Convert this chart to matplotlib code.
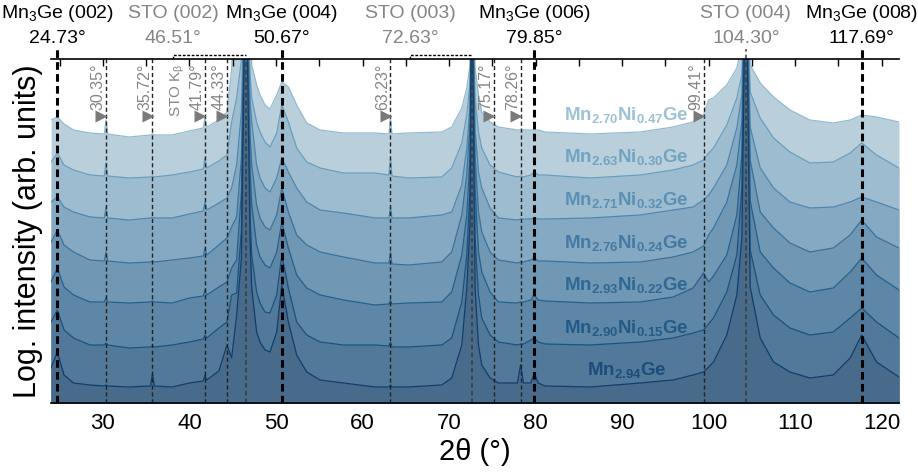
import numpy as np
import matplotlib
matplotlib.use("Agg")
import matplotlib.pyplot as plt
import matplotlib.transforms as mtransforms

plt.rcParams['font.family'] = ['Liberation Sans', 'DejaVu Sans']
plt.rcParams['mathtext.fontset'] = 'custom'
plt.rcParams['mathtext.rm'] = 'Liberation Sans'
plt.rcParams['mathtext.it'] = 'Liberation Sans:italic'
plt.rcParams['mathtext.bf'] = 'Liberation Sans:bold'

# 2theta sampling (deg) shared by all scans
two_theta = [24.0, 24.73, 25.5, 26.6, 28.5, 30.15, 30.35, 30.55, 33.0, 35.5,
             35.72, 35.95, 38.0, 40.0, 41.6, 41.79, 42.0, 43.4, 44.33, 44.87,
             45.45, 46.0, 46.51, 47.0, 47.19, 47.76, 48.15, 48.73, 49.3, 50.08,
             50.67, 51.43, 52.39, 53.55, 55.1, 57.8, 61.45, 63.05, 63.23, 63.4,
             65.3, 69.16, 70.31, 71.47, 72.05, 72.43, 72.63, 73.0, 73.4, 73.78,
             74.74, 75.71, 77.9, 78.26, 78.6, 79.45, 79.85, 80.3, 81.1, 86.3,
             92.1, 95.9, 98.2, 99.41, 100.0, 100.56, 102.1, 103.26, 103.84, 104.3,
             104.8, 105.96, 107.5, 109.4, 111.7, 114.4, 116.36, 117.69, 119.4, 122.0]

# log intensity, offset per sample (arb. units)
mn270_ni047 = [283, 286, 279, 273, 270, 269, 283, 269, 266, 268,
               269, 268, 268, 272, 275, 285, 276, 283, 291, 333,
               460, 460, 460, 460, 338, 318, 308, 298, 294, 308,
               321, 316, 298, 280, 273, 270, 270, 269, 285, 269,
               270, 271, 276, 295, 315, 338, 460, 335, 308, 291,
               281, 276, 273, 273, 273, 273, 273, 273, 271, 269,
               271, 276, 281, 288, 303, 305, 318, 335, 358, 460,
               338, 320, 306, 293, 283, 280, 283, 288, 286, 281]
mn263_ni030 = [241, 250, 238, 233, 228, 227, 240, 227, 225, 226,
               227, 226, 228, 231, 234, 245, 235, 242, 248, 281,
               305, 343, 460, 328, 305, 281, 271, 261, 256, 270,
               298, 281, 255, 241, 235, 230, 230, 228, 245, 227,
               225, 226, 235, 260, 288, 321, 460, 305, 271, 255,
               238, 231, 226, 227, 226, 228, 231, 228, 228, 225,
               228, 233, 238, 243, 250, 255, 278, 305, 328, 460,
               311, 285, 265, 251, 240, 241, 250, 260, 248, 235]
mn271_ni032 = [201, 206, 196, 191, 186, 185, 196, 185, 183, 185,
               186, 185, 185, 189, 192, 201, 193, 200, 205, 215,
               238, 291, 460, 303, 281, 238, 225, 215, 211, 225,
               245, 231, 215, 201, 193, 190, 185, 185, 196, 185,
               185, 188, 191, 218, 255, 298, 460, 275, 231, 215,
               195, 185, 183, 184, 184, 184, 185, 184, 184, 185,
               188, 193, 196, 203, 208, 215, 238, 275, 308, 460,
               276, 235, 215, 201, 195, 196, 201, 206, 201, 193]
mn276_ni024 = [161, 173, 158, 151, 143, 142, 151, 142, 140, 141,
               142, 141, 143, 145, 147, 155, 148, 158, 165, 176,
               186, 245, 460, 268, 238, 198, 185, 176, 173, 188,
               215, 191, 168, 158, 151, 146, 140, 140, 151, 139,
               138, 141, 151, 188, 228, 281, 460, 248, 191, 171,
               151, 143, 140, 141, 141, 143, 145, 142, 142, 140,
               141, 146, 151, 157, 168, 175, 201, 238, 281, 460,
               243, 191, 175, 160, 151, 155, 168, 183, 166, 155]
mn293_ni022 = [121, 135, 116, 108, 101, 101, 105, 101, 100, 101,
               102, 101, 100, 105, 107, 113, 108, 116, 121, 135,
               143, 211, 460, 233, 198, 158, 146, 138, 135, 151,
               181, 155, 128, 115, 108, 103, 98, 99, 103, 99,
               100, 101, 111, 148, 188, 248, 460, 215, 151, 131,
               111, 101, 100, 101, 101, 103, 108, 103, 102, 100,
               101, 106, 115, 130, 121, 127, 148, 188, 248, 460,
               202, 151, 135, 120, 111, 115, 131, 145, 128, 113]
mn290_ni015 = [81, 93, 73, 65, 58, 58, 60, 58, 55, 56,
               57, 56, 58, 61, 64, 68, 65, 75, 81, 108,
               110, 173, 460, 188, 148, 111, 100, 91, 90, 108,
               148, 115, 81, 68, 61, 58, 58, 57, 61, 56,
               56, 58, 65, 101, 148, 215, 460, 165, 108, 85,
               68, 61, 58, 59, 59, 63, 65, 61, 59, 58,
               61, 65, 70, 73, 79, 85, 111, 148, 215, 460,
               153, 108, 88, 75, 68, 71, 85, 95, 81, 65]
mn294 = [35, 51, 28, 20, 18, 17, 18, 17, 16, 17,
         29, 17, 16, 20, 22, 28, 23, 32, 58, 45,
         88, 145, 460, 165, 115, 71, 61, 53, 51, 71,
         118, 81, 48, 31, 23, 20, 16, 16, 18, 16,
         16, 18, 25, 58, 115, 181, 460, 115, 58, 38,
         25, 20, 20, 38, 20, 20, 30, 20, 17, 16,
         20, 23, 28, 31, 36, 41, 68, 108, 165, 460,
         116, 65, 41, 31, 25, 28, 45, 68, 41, 26]

scans = [mn270_ni047, mn263_ni030, mn271_ni032, mn276_ni024,
         mn293_ni022, mn290_ni015, mn294]
sample_names = [r'Mn$_{\mathbf{2.70}}$Ni$_{\mathbf{0.47}}$Ge',
                r'Mn$_{\mathbf{2.63}}$Ni$_{\mathbf{0.30}}$Ge',
                r'Mn$_{\mathbf{2.71}}$Ni$_{\mathbf{0.32}}$Ge',
                r'Mn$_{\mathbf{2.76}}$Ni$_{\mathbf{0.24}}$Ge',
                r'Mn$_{\mathbf{2.93}}$Ni$_{\mathbf{0.22}}$Ge',
                r'Mn$_{\mathbf{2.90}}$Ni$_{\mathbf{0.15}}$Ge',
                r'Mn$_{\mathbf{2.94}}$Ge']

# reflections
film_peaks = [24.73, 50.67, 79.85, 117.69]
film_hkl = ['(002)', '(004)', '(006)', '(008)']
substrate_peaks = [46.51, 72.63, 104.30]
substrate_hkl = ['(002)', '(003)', '(004)']
minor_peaks = [30.35, 35.72, 41.79, 44.33, 63.23, 75.17, 78.26, 99.41]

# styling
fill_colors = ['#b9d0dc', '#9dbccf', '#85a9c2', '#7097b4', '#5e86a6',
               '#52789a', '#486a8b']
line_colors = ['#93bad0', '#6b9dbd', '#4f87ad', '#3a729c', '#27608c',
               '#1b527f', '#103f6c']
label_colors = ['#9dc2d6', '#72a3c2', '#5b90b5', '#4479a4', '#2f6894',
               '#235a87', '#1b4d7a']
gray = '#858585'
narrow = ['Liberation Sans Narrow', 'Liberation Sans', 'DejaVu Sans']

fig = plt.figure(figsize=(9.18, 4.72), dpi=100)
ax = fig.add_axes([0.0556, 0.1462, 0.9237, 0.7288])

for i, (scan, fc, lc) in enumerate(zip(scans, fill_colors, line_colors)):
    ax.fill_between(two_theta, scan, 0, color=fc, lw=0, zorder=1 + i)
    ax.plot(two_theta, scan, color=lc, lw=0.9, zorder=1.5 + i)

ax.set_xlim(24, 122)
ax.set_ylim(0, 344)

trans = mtransforms.blended_transform_factory(ax.transData, ax.transAxes)

# film reflections: thick dashes reaching into the header
for x in film_peaks:
    ax.axvline(x, ymin=0, ymax=1.03, color='black', lw=2.2,
               dashes=(2.5, 1.4), clip_on=False, zorder=20)
for x in substrate_peaks:
    top = 1.03 if x > 100 else 1.0
    ax.axvline(x, ymin=0, ymax=top, color='#3a3a3a', lw=1.1,
               dashes=(3, 2), clip_on=False, zorder=20)
for x in minor_peaks:
    ax.axvline(x, ymin=0, ymax=1.0, color='#222222', lw=1.0,
               dashes=(3, 2), zorder=20)
    ax.plot([x - 0.55], [0.834], marker='>', ms=9, color='#7a7a7a',
            mec='none', transform=trans, clip_on=False, zorder=21)
    ax.text(x - 0.9, 0.852, f'{x:.2f}°', rotation=90, ha='center',
            va='bottom', fontsize=11.5, family=narrow, color=gray,
            transform=trans, zorder=21)
ax.text(41.79 - 3.1, 0.83, r'STO K$_\mathrm{β}$', rotation=90, ha='center',
        va='bottom', fontsize=11, family=narrow, color=gray,
        transform=trans, zorder=21)

# brackets from offset substrate labels down to their lines
label_x = {46.51: 38.1, 72.63: 65.5, 104.30: 104.30}
for x in (46.51, 72.63):
    ax.plot([label_x[x], label_x[x], x], [1.0, 1.013, 1.013], color='black',
            lw=1.0, dashes=(2, 1.2), transform=trans, clip_on=False, zorder=20)

# header labels
for x, hkl in zip(film_peaks, film_hkl):
    ax.text(x, 1.131, 'Mn$_3$Ge ' + hkl, ha='center', va='center',
            fontsize=14, color='black', transform=trans)
    ax.text(x, 1.061, f'{x:.2f}°', ha='center', va='center',
            fontsize=14, color='black', transform=trans)
for x, hkl in zip(substrate_peaks, substrate_hkl):
    ax.text(label_x[x], 1.131, 'STO ' + hkl, ha='center', va='center',
            fontsize=14, color=gray, transform=trans)
    ax.text(label_x[x], 1.061, f'{x:.2f}°', ha='center', va='center',
            fontsize=14, color=gray, transform=trans)

# sample names
for i, (name, col) in enumerate(zip(sample_names, label_colors)):
    ax.text(90.5, 0.823 - 0.1237 * i, name, ha='center', va='baseline',
            fontsize=13.5, fontweight='bold', color=col, transform=trans,
            zorder=30)

ax.set_xticks(np.arange(30, 121, 10))
ax.set_xticks(np.arange(25, 122, 5), minor=True)
ax.set_yticks([])
ax.tick_params(axis='x', which='both', direction='in', top=True, length=5,
               width=1, labelsize=16, pad=7)
for side in ('left', 'right'):
    ax.spines[side].set_visible(False)
for side in ('top', 'bottom'):
    ax.spines[side].set_linewidth(1.2)
    ax.spines[side].set_zorder(25)

ax.set_xlabel('2θ (°)', fontsize=21, labelpad=3)
ax.set_ylabel('Log. intensity (arb. units)', fontsize=22, labelpad=6)

fig.savefig('out.png', dpi=100)
